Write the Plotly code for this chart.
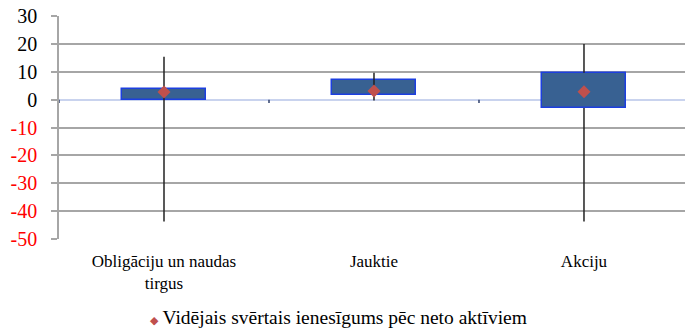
import plotly.graph_objects as go

# Fund groups and their return ranges (%)
categories = ["Obligāciju un naudas<br>tirgus", "Jauktie", "Akciju"]
box_low = [-0.3, 1.8, -3.0]
box_high = [3.9, 7.0, 9.6]
whisker_low = [-43.7, -0.3, -43.7]
whisker_high = [15.4, 9.6, 20.0]
weighted_mean = [2.7, 3.1, 2.8]
mean_label = "Vidējais svērtais ienesīgums pēc neto aktīviem"

y_ticks = [30, 20, 10, 0, -10, -20, -30, -40, -50]
y_tick_text = [
    f"<span style='color:{'#ff0000' if v < 0 else '#000000'}'>{v}</span>" for v in y_ticks
]

serif = "Liberation Serif"
mean_color = "#c0504d"
xs = list(range(len(categories)))

fig = go.Figure()

# Boxes as floating bars
fig.add_trace(go.Bar(
    x=xs, y=[h - l for h, l in zip(box_high, box_low)], base=box_low,
    width=0.4, marker=dict(color="#386192", line=dict(color="#1c3fe0", width=1.5)),
    showlegend=False, hoverinfo="skip"))

# Whiskers: full line across the box for the first two groups,
# split above/below the box for the last group
wx, wy = [], []
for i in xs:
    if i < 2:
        wx += [i, i, None]
        wy += [whisker_low[i], whisker_high[i], None]
    else:
        wx += [i, i, None, i, i, None]
        wy += [box_high[i], whisker_high[i], None, whisker_low[i], box_low[i], None]
fig.add_trace(go.Scatter(
    x=wx, y=wy, mode="lines", connectgaps=False,
    line=dict(color="#222222", width=1.5), showlegend=False, hoverinfo="skip"))

# Weighted mean markers
fig.add_trace(go.Scatter(
    x=xs, y=weighted_mean, mode="markers", name=mean_label, showlegend=False,
    marker=dict(symbol="diamond", size=10, color=mean_color)))

# Legend line for the mean markers
fig.add_annotation(
    xref="paper", yref="paper", x=0.142, y=-0.354, xanchor="left", yanchor="middle",
    showarrow=False,
    text=f"<span style='color:{mean_color};font-size:11px'>◆</span> {mean_label}",
    font=dict(family=serif, size=19.5, color="#000000"))

# Category separators on the zero line
for b in [-0.5, 0.5, 1.5]:
    fig.add_shape(type="line", xref="x", yref="y", x0=b, x1=b, y0=0, y1=-1.2,
                  line=dict(color="#30406a", width=1.5), layer="above")

fig.update_layout(
    width=685, height=329,
    margin=dict(l=59, r=0, t=16, b=90, autoexpand=False),
    paper_bgcolor="white", plot_bgcolor="white",
    font=dict(family=serif, size=17, color="#000000"),
    bargap=0,
    showlegend=False,
)

fig.update_xaxes(
    range=[-0.5, 2.481], tickvals=xs, ticktext=categories,
    showgrid=False, zeroline=False, showline=False, ticks="",
    tickfont=dict(family=serif, size=17), ticklabelstandoff=10,
)

fig.update_yaxes(
    range=[-50, 30], tickvals=y_ticks, ticktext=y_tick_text,
    showgrid=True, gridcolor="#a6a6a6", gridwidth=1.5,
    zeroline=True, zerolinecolor="#c9d3ee", zerolinewidth=2,
    showline=True, linecolor="#a6a6a6", linewidth=1.5,
    ticks="outside", ticklen=6, tickcolor="#a6a6a6", tickwidth=1.5,
    tickfont=dict(family=serif, size=20), ticklabelstandoff=10,
)

fig.write_html("out.html")
